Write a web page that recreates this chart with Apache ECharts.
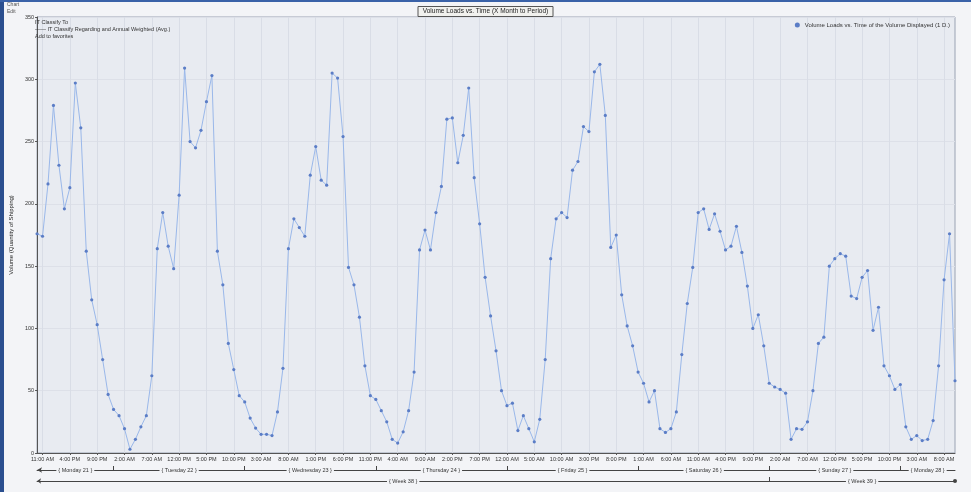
<!DOCTYPE html>
<html>
<head>
<meta charset="utf-8">
<script src="https://cdn.jsdelivr.net/npm/echarts@6/dist/echarts.min.js"></script>
<style>
html,body{margin:0;padding:0;background:#f3f4f7;}
#chart{position:absolute;left:0;top:0;width:971px;height:492px;}
#frame{position:absolute;left:0;top:0;width:4px;height:492px;background:#2b4f8f;}
#topbar{position:absolute;left:0;top:0;width:971px;height:2px;background:#3a62a8;}
</style>
</head>
<body>
<div id="chart"></div>
<div id="frame"></div>
<div id="topbar"></div>
<script>
// ---- data ----
const startHour = 10;            // first sample: 10:00 AM
const sampleCount = 169;         // hourly samples
const volume = [
  176,174,216,279,231,196,213,297,261,162,
  123,103,75,47,35,30,19.5,3,11,21,
  30,62,164,193,166,148,207,309,250,245,
  259,282,303,162,135,88,67,46,41,28,
  20,15,15,14,33,68,164,188,181,174,
  223,246,219,215,305,301,254,149,135,109,
  70,46,43,34,25,11,8,17,34,65,
  163,179,163,193,214,268,269,233,255,293,
  221,184,141,110,82,50,38,40,18,30,
  19.5,9,27,75,156,188,193,189,227,234,
  262,258,306,312,271,165,175,127,102,86,
  65,56,41,50,19.5,16.5,19.5,33,79,120,
  149,193,196,179.5,192,178,163,166,182,161,
  134,100,111,86,56,53,51,48,11,19.5,
  19,25,50,88,93,150,156,160,158,126,
  124,141,146.5,98.5,117,70,62,51,55,21,
  11,14,10,11,26,70,139,176,58
];
const timeTickLabels = [
  "11:00 AM","4:00 PM","9:00 PM","2:00 AM","7:00 AM","12:00 PM","5:00 PM","10:00 PM",
  "3:00 AM","8:00 AM","1:00 PM","6:00 PM","11:00 PM","4:00 AM","9:00 AM","2:00 PM",
  "7:00 PM","12:00 AM","5:00 AM","10:00 AM","3:00 PM","8:00 PM","1:00 AM","6:00 AM",
  "11:00 AM","4:00 PM","9:00 PM","2:00 AM","7:00 AM","12:00 PM","5:00 PM","10:00 PM",
  "3:00 AM","8:00 AM"
];
const dayLabels = ["Monday 21","Tuesday 22","Wednesday 23","Thursday 24","Friday 25","Saturday 26","Sunday 27","Monday 28"];
const weekLabels = ["Week 38","Week 39"];
const weekStartDay = 6;          // day index where the second week begins
const yTicks = [0,50,100,150,200,250,300,350];

// ---- derived categories ----
function fmtHour(h){
  const hh = h % 24;
  const ap = hh < 12 ? "AM" : "PM";
  let d = hh % 12; if (d === 0) d = 12;
  return d + ":00 " + ap;
}
const categories = [];
const dayOf = [];
for (let i = 0; i < sampleCount; i++) {
  categories.push(fmtHour(startHour + i));
  dayOf.push(Math.floor((startHour + i) / 24));
}
const dayLabelAt = {};
for (let d = 0; d < dayLabels.length; d++) {
  const idx = [];
  for (let i = 0; i < sampleCount; i++) if (dayOf[i] === d) idx.push(i);
  if (idx.length) dayLabelAt[Math.round((idx[0] + idx[idx.length - 1]) / 2)] = dayLabels[d];
}
const weekOf = dayOf.map(d => d >= weekStartDay ? 1 : 0);
const weekLabelAt = {};
for (let w = 0; w < weekLabels.length; w++) {
  const idx = [];
  for (let i = 0; i < sampleCount; i++) if (weekOf[i] === w) idx.push(i);
  if (idx.length) weekLabelAt[Math.round((idx[0] + idx[idx.length - 1]) / 2)] = weekLabels[w];
}
const isMidnight = i => i > 0 && (startHour + i) % 24 === 0;
const isWeekStart = i => i > 0 && weekOf[i] !== weekOf[i - 1];

const chart = echarts.init(document.getElementById('chart'), null, {renderer: 'canvas'});
const FONT = 'Liberation Sans, Arial, sans-serif';
const seriesName = 'Volume Loads vs. Time of the Volume Displayed (1 D.)';

chart.setOption({
  animation: false,
  backgroundColor: '#f3f4f7',
  textStyle: {fontFamily: FONT},
  title: [
    {
      text: 'Volume Loads vs. Time (X Month to Period)',
      left: 'center', top: 6,
      padding: [2, 5],
      borderColor: '#555', borderWidth: 1,
      backgroundColor: '#f1f1ee',
      textStyle: {fontSize: 6.5, fontWeight: 'normal', color: '#222', fontFamily: FONT}
    },
    {
      text: 'Chart\nEdit',
      left: 7, top: 1, padding: 0,
      textStyle: {fontSize: 5, fontWeight: 'normal', color: '#555', lineHeight: 7, fontFamily: FONT}
    },
    {
      text: 'IT Classify To\n—— IT Classify Regarding and Annual Weighted (Avg.)\nAdd to favorites',
      left: 35, top: 19, padding: 0,
      textStyle: {fontSize: 5.5, fontWeight: 'normal', color: '#333', lineHeight: 7, fontFamily: FONT}
    }
  ],
  legend: {
    right: 16, top: 17,
    itemWidth: 5, itemHeight: 5, itemGap: 4,
    icon: 'circle',
    textStyle: {fontSize: 6, color: '#333', fontFamily: FONT},
    data: [seriesName]
  },
  grid: {
    left: 32, right: 16, top: 17, bottom: 39,
    show: true, backgroundColor: '#e8ebf1', borderColor: '#9aa2b3', borderWidth: 1,
    containLabel: false
  },
  xAxis: [
    {
      type: 'category', data: categories, boundaryGap: false, position: 'bottom',
      axisLine: {lineStyle: {color: '#555', width: 1}},
      axisTick: {interval: i => i % 5 === 1, length: 2, lineStyle: {color: '#555'}},
      axisLabel: {
        interval: i => i % 5 === 1, fontSize: 5.5, color: '#333', margin: 3,
        formatter: (v, i) => timeTickLabels[(i - 1) / 5] || ''
      },
      splitLine: {show: true, interval: i => i % 5 === 1, lineStyle: {color: '#d9dde6', width: 1}}
    },
    {
      type: 'category', data: categories, boundaryGap: false, position: 'bottom', offset: 17,
      axisLine: {lineStyle: {color: '#444', width: 1}, symbol: ['arrow', 'none'], symbolSize: [4, 5]},
      axisTick: {interval: isMidnight, inside: true, length: 4, lineStyle: {color: '#444'}},
      axisLabel: {
        interval: i => dayLabelAt[i] !== undefined, fontSize: 5.5, color: '#333', margin: -3,
        backgroundColor: '#f3f4f7', padding: [0, 2],
        formatter: (v, i) => '{ ' + (dayLabelAt[i] || '') + ' }'
      },
      splitLine: {show: false}
    },
    {
      type: 'category', data: categories, boundaryGap: false, position: 'bottom', offset: 28,
      axisLine: {lineStyle: {color: '#444', width: 1}, symbol: ['arrow', 'circle'], symbolSize: [4, 4]},
      axisTick: {interval: isWeekStart, inside: true, length: 4, lineStyle: {color: '#444'}},
      axisLabel: {
        interval: i => weekLabelAt[i] !== undefined, fontSize: 5.5, color: '#333', margin: -3,
        backgroundColor: '#f3f4f7', padding: [0, 2],
        formatter: (v, i) => '{ ' + (weekLabelAt[i] || '') + ' }'
      },
      splitLine: {show: false}
    }
  ],
  yAxis: {
    type: 'value', min: yTicks[0], max: yTicks[yTicks.length - 1], interval: 50,
    name: 'Volume (Quantity of Shipping)', nameLocation: 'middle', nameGap: 20, nameRotate: 90,
    nameTextStyle: {fontSize: 6, color: '#222', fontFamily: FONT},
    axisLine: {show: true, lineStyle: {color: '#555'}},
    axisTick: {show: true, length: 2, lineStyle: {color: '#555'}},
    axisLabel: {fontSize: 5.5, color: '#333', margin: 3},
    splitLine: {show: true, lineStyle: {color: '#dde0e8', width: 1}}
  },
  series: [{
    name: seriesName,
    type: 'line',
    xAxisIndex: 0,
    data: volume,
    symbol: 'circle', symbolSize: 3.2, showAllSymbol: true,
    lineStyle: {color: '#9ab8ea', width: 1},
    itemStyle: {color: '#5b7dc6'}
  }]
});
</script>
</body>
</html>
